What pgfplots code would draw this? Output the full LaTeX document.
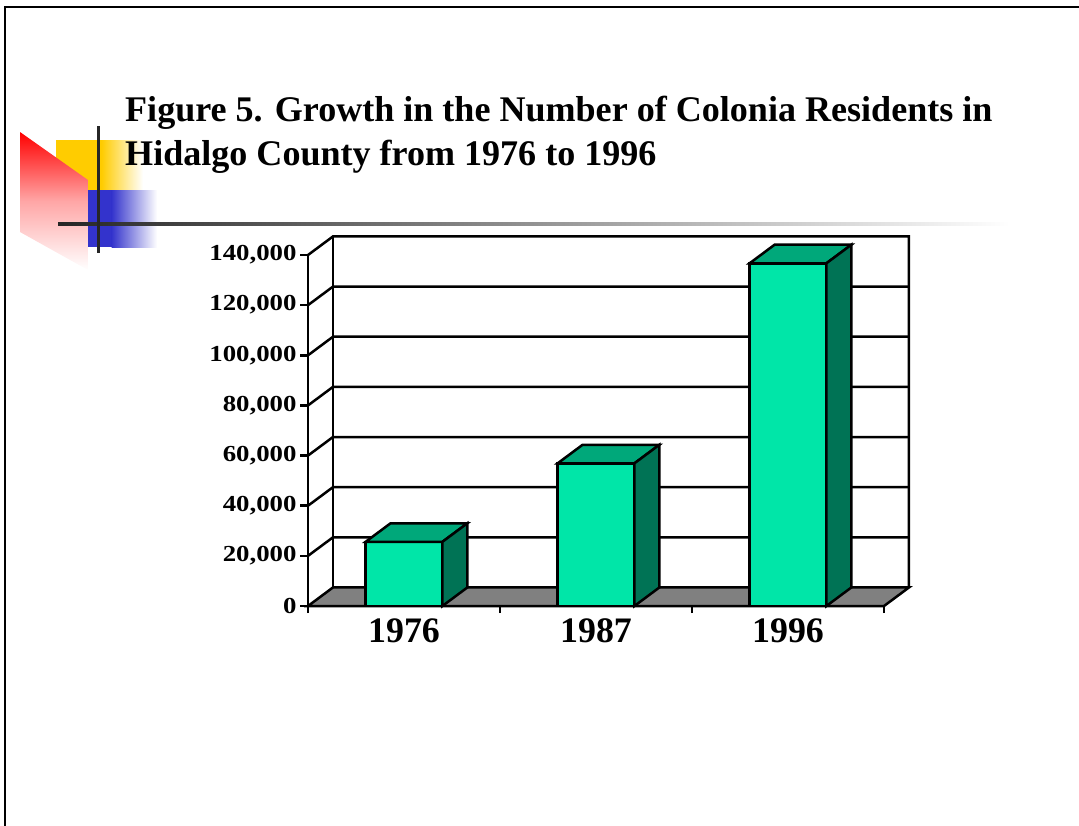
\documentclass[border=0pt]{standalone}
\usepackage{fontspec}
\setmainfont{Liberation Serif}
\usepackage{pgfplots}
\pgfplotsset{compat=1.18}
\definecolor{barfront}{RGB}{0,230,168}
\definecolor{bartop}{RGB}{0,168,122}
\definecolor{barside}{RGB}{0,115,85}
\definecolor{floorgray}{RGB}{128,128,128}
\definecolor{decoyellow}{RGB}{255,204,0}
\definecolor{decoblue}{RGB}{51,51,204}
\newcommand\sy[1]{\scalebox{1.17}[1]{#1}}
\begin{document}
\begin{tikzpicture}
\begin{scope}[x=1bp,y=-1bp]
\path[use as bounding box] (0,0) rectangle (1079,826);
% slide border
\draw[line width=2.5bp] (5,826) -- (5,7) -- (1079,7);
% decorations
\fill[decoyellow] (56,140) rectangle (102,190);
\shade[left color=decoyellow, right color=white] (101.5,140) rectangle (143,190);
\fill[decoblue] (88,190) rectangle (112,247);
\shade[left color=decoblue, right color=white] (111.5,190) rectangle (157,247);
\shade[top color=red, bottom color=white, middle color=red!35] (20,132) -- (88,180) -- (88,270) -- (20,232) -- cycle;
\shade[left color=black!85, middle color=black!30, right color=white] (58,222.5) rectangle (1010,225.5);
\draw[line width=3bp, black!85] (98,126) -- (98,253);
% title
\node[anchor=base west, inner sep=0, font=\fontsize{36.2}{44}\selectfont\bfseries] at (125,121) {Figure 5. Growth in the Number of Colonia Residents in};
\node[anchor=base west, inner sep=0, font=\fontsize{36.2}{44}\selectfont\bfseries] at (125,165) {Hidalgo County from 1976 to 1996};
\end{scope}
\begin{axis}[
  at={(308bp,-606bp)}, anchor=south west,
  scale only axis, width=576bp, height=351bp,
  xmin=-0.5, xmax=2.5, ymin=0, ymax=140000,
  axis lines=left, axis line style={-, line width=2.5bp},
  clip=false, axis on top,
  scaled y ticks=false,
  xtick={0,1,2}, xticklabels={1976,1987,1996},
  minor xtick={-0.5,0.5,1.5,2.5},
  major x tick style={draw=none},
  minor tick length=7bp,
  ytick={0,20000,40000,60000,80000,100000,120000,140000},
  yticklabels={\sy{0},\sy{20,000},\sy{40,000},\sy{60,000},\sy{80,000},\sy{100,000},\sy{120,000},\sy{140,000}},
  major tick length=8bp,
  tick align=outside,
  tick style={line width=2.5bp, black},
  xticklabel style={font=\fontsize{36}{36}\selectfont\bfseries, yshift=-1bp},
  yticklabel style={font=\fontsize{23}{23}\selectfont\bfseries},
]
% back wall and side wall grid lines
\addplot[black, line width=2.5bp] coordinates {(-0.5,140000) (-0.37,147400) (2.63,147400) (2.63,7400)};
\addplot[black, line width=2.5bp] coordinates {(-0.37,7400) (-0.37,147400)};
\addplot[black, line width=2.5bp] coordinates {(-0.5,20000) (-0.37,27400) (2.63,27400)};
\addplot[black, line width=2.5bp] coordinates {(-0.5,40000) (-0.37,47400) (2.63,47400)};
\addplot[black, line width=2.5bp] coordinates {(-0.5,60000) (-0.37,67400) (2.63,67400)};
\addplot[black, line width=2.5bp] coordinates {(-0.5,80000) (-0.37,87400) (2.63,87400)};
\addplot[black, line width=2.5bp] coordinates {(-0.5,100000) (-0.37,107400) (2.63,107400)};
\addplot[black, line width=2.5bp] coordinates {(-0.5,120000) (-0.37,127400) (2.63,127400)};
% floor
\addplot[fill=floorgray, draw=black, line width=2.5bp] coordinates {(-0.5,0) (2.5,0) (2.63,7400) (-0.37,7400)} -- cycle;
% 1976: 25600
\addplot[fill=barfront, draw=black, line width=2.5bp] coordinates {(-0.2,0) (0.2,0) (0.2,25600) (-0.2,25600)} -- cycle;
\addplot[fill=bartop, draw=black, line width=2.5bp] coordinates {(-0.2,25600) (0.2,25600) (0.33,33000) (-0.07,33000)} -- cycle;
\addplot[fill=barside, draw=black, line width=2.5bp] coordinates {(0.2,0) (0.33,7400) (0.33,33000) (0.2,25600)} -- cycle;
% 1987: 56900
\addplot[fill=barfront, draw=black, line width=2.5bp] coordinates {(0.8,0) (1.2,0) (1.2,56900) (0.8,56900)} -- cycle;
\addplot[fill=bartop, draw=black, line width=2.5bp] coordinates {(0.8,56900) (1.2,56900) (1.33,64300) (0.93,64300)} -- cycle;
\addplot[fill=barside, draw=black, line width=2.5bp] coordinates {(1.2,0) (1.33,7400) (1.33,64300) (1.2,56900)} -- cycle;
% 1996: 136700
\addplot[fill=barfront, draw=black, line width=2.5bp] coordinates {(1.8,0) (2.2,0) (2.2,136700) (1.8,136700)} -- cycle;
\addplot[fill=bartop, draw=black, line width=2.5bp] coordinates {(1.8,136700) (2.2,136700) (2.33,144100) (1.93,144100)} -- cycle;
\addplot[fill=barside, draw=black, line width=2.5bp] coordinates {(2.2,0) (2.33,7400) (2.33,144100) (2.2,136700)} -- cycle;
\end{axis}
\end{tikzpicture}
\end{document}
